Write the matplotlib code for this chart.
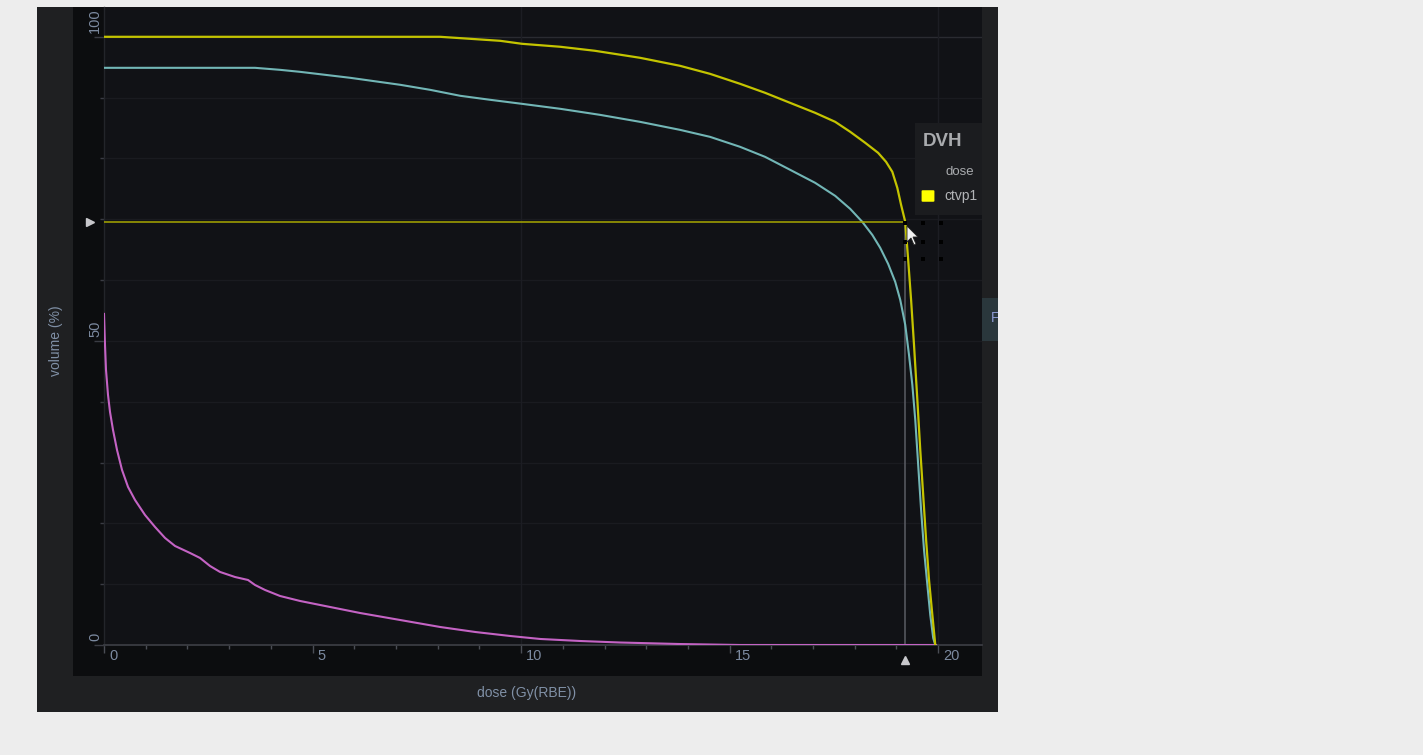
import matplotlib
matplotlib.use("Agg")
import matplotlib.pyplot as plt
from matplotlib.patches import Rectangle, Polygon, FancyBboxPatch
from matplotlib.transforms import blended_transform_factory, ScaledTranslation

plt.rcParams['font.family'] = ['Liberation Sans', 'DejaVu Sans']

# ---------------- data ----------------
ctvp1_dose = [0, 8.06, 8.78, 9.50, 10.02, 10.94, 11.77, 12.85, 13.81, 14.53, 15.25, 15.85,
              16.45, 17.05, 17.53, 17.89, 18.25, 18.56, 18.75, 18.90, 19.02, 19.11, 19.21,
              19.28, 19.35, 19.42, 19.50, 19.57, 19.64, 19.71, 19.78, 19.86, 19.93]
ctvp1_vol = [100.0, 100.0, 99.67, 99.34, 98.85, 98.36, 97.70, 96.55, 95.23, 93.91, 92.27, 90.79,
             89.14, 87.50, 86.02, 84.38, 82.57, 80.92, 79.44, 77.80, 75.16, 72.37, 69.57,
             63.32, 56.74, 49.34, 40.30, 32.07, 24.67, 17.27, 10.69, 4.93, 0.0]

cyan_dose = [0, 3.62, 4.22, 4.70, 5.90, 7.10, 7.82, 8.54, 9.26, 10.02, 10.94, 11.89, 12.85,
             13.81, 14.53, 15.25, 15.85, 16.45, 17.05, 17.53, 17.89, 18.18, 18.42, 18.61,
             18.80, 18.97, 19.09, 19.21, 19.30, 19.38, 19.45, 19.52, 19.59, 19.66, 19.74,
             19.81, 19.88, 19.93]
cyan_vol = [94.90, 94.90, 94.57, 94.24, 93.26, 92.11, 91.28, 90.30, 89.64, 88.98, 88.16, 87.17,
            86.02, 84.70, 83.55, 81.91, 80.26, 78.13, 75.99, 73.85, 71.71, 69.57, 67.43,
            65.30, 62.66, 59.70, 56.74, 52.63, 47.70, 42.76, 37.01, 29.61, 22.20, 15.63,
            9.87, 4.93, 1.15, 0.0]

magenta_dose = [0, 0.024, 0.048, 0.096, 0.144, 0.216, 0.312, 0.432, 0.576, 0.743, 0.983,
                1.223, 1.463, 1.703, 2.062, 2.302, 2.542, 2.782, 3.141, 3.453, 3.62, 3.86,
                4.22, 4.70, 5.42, 6.14, 7.10, 8.06, 8.90, 9.74, 10.46, 11.41, 12.37, 13.81,
                15.25, 19.95]
magenta_vol = [54.44, 49.34, 45.23, 41.12, 38.32, 35.36, 32.07, 28.78, 25.99, 23.85, 21.38,
               19.41, 17.60, 16.28, 15.13, 14.31, 12.99, 12.01, 11.18, 10.69, 9.87, 9.05,
               8.06, 7.24, 6.25, 5.26, 4.11, 2.96, 2.14, 1.48, 0.99, 0.66, 0.41, 0.16,
               0.0, 0.0]

ref_volume = 69.6   # horizontal reference line (%)
ref_dose = 19.2     # vertical reference line (Gy)

x_major = [0, 5, 10, 15, 20]
x_major_labels = ['0', '5', '10', '15', '20']
x_minor = list(range(0, 21))
y_major = [0, 50, 100]
y_major_labels = ['0', '50', '100']
y_minor = list(range(0, 101, 10))
x_grid = [10, 20]
y_grid = list(range(10, 101, 10))

legend_title = 'DVH'
legend_sub = 'dose'
legend_item = 'ctvp1'

# ---------------- figure ----------------
W, H = 1423, 755
fig = plt.figure(figsize=(W / 100, H / 100), dpi=100, facecolor='#ededed')


def fx(x):
    return x / W


def fy(y):
    return 1 - y / H


def rect(x0, y0, x1, y1, color, z=-5, **kw):
    r = Rectangle((fx(x0), fy(y1)), (x1 - x0) / W, (y1 - y0) / H,
                  transform=fig.transFigure, facecolor=color, edgecolor='none',
                  zorder=z, **kw)
    fig.patches.append(r)
    return r


rect(37, 7, 998, 712, '#1f2022', z=-6)    # outer panel
rect(73, 7, 982, 676, '#0c0d0f', z=-5)    # inner dark area

ax = fig.add_axes([fx(104), fy(645), (982 - 104) / W, (645 - 7) / H])
ax.set_facecolor('#111216')
ax.set_xlim(0, 21.05)
ax.set_ylim(0, 104.9)

for s in ['top', 'right']:
    ax.spines[s].set_visible(False)
ax.spines['bottom'].set_color('#3a3c42')
ax.spines['bottom'].set_linewidth(1.3)
ax.spines['left'].set_color('#23252a')
ax.spines['left'].set_linewidth(1.0)

# grid
for g in y_grid:
    ax.axhline(g, color='#2a2b31' if g == 100 else '#1a1b20', lw=1.0, zorder=0.5)
for g in x_grid:
    ax.axvline(g, color='#1c1d23', lw=1.0, zorder=0.5)

# ticks
ax.set_xticks(x_major)
ax.set_xticks(x_minor, minor=True)
ax.set_yticks(y_major)
ax.set_yticks(y_minor, minor=True)
ax.set_xticklabels([])
ax.set_yticklabels([])
ax.tick_params(axis='x', which='major', direction='out', length=6.0, width=1.0, color='#4a4d55')
ax.tick_params(axis='x', which='minor', direction='out', length=2.8, width=1.0, color='#4a4d55')
ax.tick_params(axis='y', which='major', direction='out', length=7.5, width=1.0, color='#3a3c44')
ax.tick_params(axis='y', which='minor', direction='out', length=3.0, width=1.0, color='#3a3c44')

tick_color = '#7c8aa0'
tx = blended_transform_factory(ax.transData, ax.transAxes)
for v, lab in zip(x_major, x_major_labels):
    ax.text(v, 0, lab, transform=tx + ScaledTranslation(5 / 100, -4 / 100, fig.dpi_scale_trans),
            ha='left', va='top', fontsize=10.5, color=tick_color, clip_on=False)
ty = blended_transform_factory(ax.transAxes, ax.transData)
for v, lab in zip(y_major, y_major_labels):
    ax.text(0, v, lab, transform=ty + ScaledTranslation(-9 / 100, 4 / 100, fig.dpi_scale_trans),
            rotation=90, rotation_mode='anchor', ha='left', va='center',
            fontsize=10.5, color=tick_color, clip_on=False)

# curves
ax.plot(magenta_dose, magenta_vol, color='#c463c4', lw=1.5, zorder=3, solid_joinstyle='round')
ax.plot(cyan_dose, cyan_vol, color='#72b6b6', lw=1.5, zorder=3, solid_joinstyle='round')
ax.plot(ctvp1_dose, ctvp1_vol, color='#c4c400', lw=1.6, zorder=4, solid_joinstyle='round')

# reference lines
ax.plot([0, ref_dose], [ref_volume, ref_volume], color='#a8a800', lw=1.1, zorder=3.5)
ax.plot([ref_dose, ref_dose], [0, ref_volume], color='#55575e', lw=1.2, zorder=2)

# markers on axes
ax.plot([0], [ref_volume], marker='>', color='#c8c8cc', markersize=5.5, linestyle='none',
        transform=ty + ScaledTranslation(-14 / 100, 0, fig.dpi_scale_trans), clip_on=False)
ax.plot([ref_dose], [0], marker='^', color='#c8c8cc', markersize=6, linestyle='none',
        transform=tx + ScaledTranslation(0, -15 / 100, fig.dpi_scale_trans), clip_on=False)

# axis labels
fig.text(fx(527), fy(693), 'dose (Gy(RBE))', ha='center', va='center', fontsize=10,
         color='#8090a6')
fig.text(fx(56), fy(341), 'volume (%)', ha='center', va='center', fontsize=10,
         color='#8090a6', rotation=90)

# legend panel
rect(915, 123, 982, 215, '#1b1c1f', z=6)
fig.text(fx(923), fy(142), legend_title, ha='left', va='center', fontsize=13.5,
         fontweight='bold', color='#a9abae', zorder=7)
fig.text(fx(945), fy(172), legend_sub, ha='left', va='center', fontsize=9.5,
         color='#a9abae', zorder=7)
fig.text(fx(944), fy(196), legend_item, ha='left', va='center', fontsize=10,
         color='#b3b5b8', zorder=7)
sq = FancyBboxPatch((fx(923), fy(201)), 10 / W, 10 / H,
                    boxstyle='round,pad=0.001', transform=fig.transFigure,
                    facecolor='#ffff00', edgecolor='none', zorder=7)
fig.patches.append(sq)

# dotted selection squares
for px in [905, 923, 941]:
    for py in [223, 242, 259]:
        rect(px - 2, py - 2, px + 2, py + 2, '#000000', z=7)

# cursor arrow
cur = [(907, 226), (907, 242), (911, 238), (914, 245), (916, 244), (913, 237), (918, 237)]
fig.patches.append(Polygon([(fx(a), fy(b)) for a, b in cur], closed=True,
                           transform=fig.transFigure, facecolor='#f2f2f2',
                           edgecolor='#222222', lw=0.6, zorder=8))

# right tab
tab = rect(982, 298, 998, 341, '#2a373c', z=6)
t = fig.text(fx(991), fy(318), 'F', ha='left', va='center', fontsize=10,
             color='#8c9ad0', zorder=7)
t.set_clip_path(tab)

fig.savefig('out.png', dpi=100, facecolor=fig.get_facecolor())
